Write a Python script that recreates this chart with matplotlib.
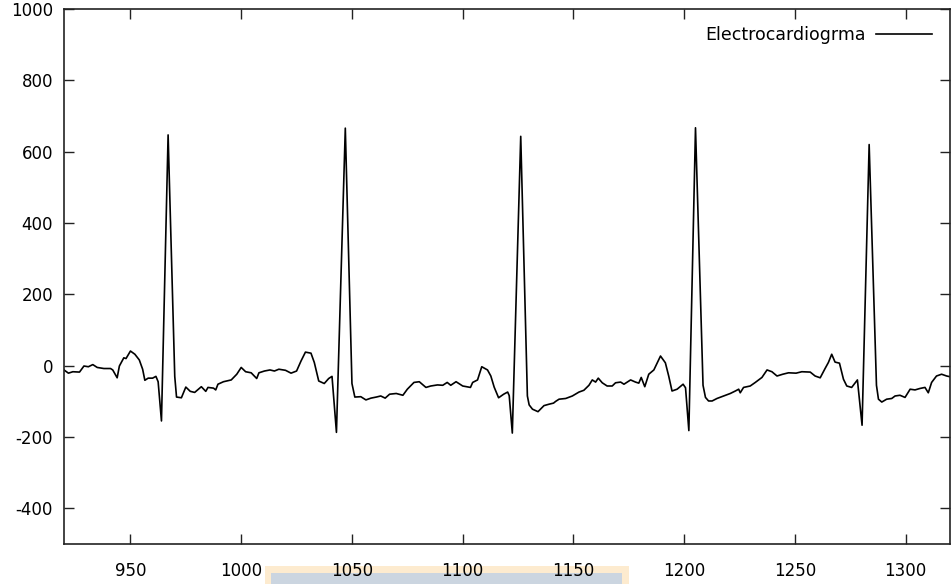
import matplotlib
matplotlib.use("Agg")
import matplotlib.pyplot as plt
from matplotlib.patches import Rectangle

muestra = [920, 922, 924, 927, 929, 931, 933, 935, 938, 941, 942, 944, 945, 947, 948,
           950, 952, 954, 955.5, 956.5, 958, 960, 961.5, 962.5, 964, 967, 970, 970.8,
           973, 975, 977, 979, 982, 984, 985, 987.5, 988.5, 989.5, 992, 995.5, 998,
           1000, 1002, 1004.5, 1007, 1008, 1010.5, 1013, 1015, 1017, 1020, 1022.5,
           1025, 1027, 1029, 1031.5, 1033, 1035, 1037.5, 1039.5, 1041, 1043, 1047,
           1050, 1051.3, 1054, 1056.3, 1058.6, 1061, 1063, 1065, 1067, 1070, 1073,
           1075, 1078, 1080.4, 1083.4, 1085.6, 1088.6, 1091, 1093, 1094.6, 1097, 1100,
           1103.5, 1104.5, 1106.7, 1108.6, 1111.2, 1112.7, 1114.2, 1116.2, 1118.5,
           1120.3, 1121, 1122.4, 1126.2, 1129.2, 1130, 1131.5, 1134, 1136.7, 1139,
           1141, 1142, 1143.5, 1146.5, 1149.5, 1152.5, 1154.7, 1157, 1158.5, 1160,
           1161.2, 1163, 1165.2, 1167.5, 1169, 1171.3, 1172.8, 1175.8, 1178, 1179.5,
           1180.6, 1182.2, 1184, 1186.3, 1189.3, 1191.5, 1193, 1194.5, 1196.8, 1199.5,
           1200.6, 1202.1, 1205.1, 1208.5, 1209.6, 1211, 1212.6, 1214.8, 1217.8,
           1220.8, 1223.1, 1224.6, 1225.3, 1226.8, 1229.8, 1232.1, 1235.1, 1237.4,
           1239.6, 1241.9, 1244.5, 1247.1, 1250.5, 1253.1, 1256.9, 1259.1, 1261.4,
           1263.6, 1265.1, 1266.6, 1268.1, 1270.1, 1271.9, 1273.4, 1275.6, 1278.2,
           1280.3, 1283.5, 1286.8, 1287.7, 1289.2, 1291.4, 1293.7, 1295.2, 1297.4,
           1299.7, 1302, 1304.2, 1306.4, 1308.7, 1310.2, 1311.7, 1313.9, 1316.2,
           1318.5, 1320]
valor = [-12, -21, -17, -18, -1, -3, 3, -5, -8, -8, -12, -34, -1, 22, 20,
         41, 32, 16, -10, -41, -35, -35, -30, -45, -155, 647, -30, -88,
         -90, -60, -72, -75, -59, -72, -61, -63, -68, -52, -45, -40, -24,
         -5, -17, -20, -36, -20, -15, -12, -15, -10, -13, -21,
         -15, 13, 38, 35, 9, -43, -50, -36, -30, -187, 666,
         -50, -88, -87, -96, -91, -88, -85, -91, -80, -78, -83,
         -66, -47, -45, -61, -57, -54, -55, -47, -55, -45, -57,
         -61, -47, -40, -3, -12, -29, -60, -90, -80,
         -74, -84, -189, 643, -85, -110, -122, -129, -112, -108,
         -105, -100, -94, -92, -85, -74, -69, -55, -40, -46,
         -35, -48, -57, -57, -48, -46, -52, -40, -46, -49,
         -33, -59, -24, -12, 27, 8, -29, -71, -66, -52,
         -62, -182, 667, -55, -89, -99, -99, -92, -85,
         -78, -71, -66, -76, -61, -57, -47, -33, -12,
         -17, -29, -24, -20, -21, -17, -18, -29, -34,
         -8, 9, 32, 10, 7, -38, -57, -61, -40,
         -167, 620, -55, -94, -102, -94, -92, -85, -83,
         -89, -66, -68, -64, -61, -76, -47, -29, -24,
         -29, -31]

xticks = [950, 1000, 1050, 1100, 1150, 1200, 1250, 1300]
yticks = [-400, -200, 0, 200, 400, 600, 800, 1000]

plt.rcParams['font.family'] = 'DejaVu Sans'
plt.rcParams['axes.unicode_minus'] = False

fig = plt.figure(figsize=(9.51, 5.84), dpi=100)
ax = fig.add_axes([64/951, 1 - 544/584, 886/951, 535/584])

ax.plot(muestra, valor, color='black', linewidth=1.2, label='Electrocardiogrma')

ax.set_xlim(920, 1320)
ax.set_ylim(-500, 1000)
ax.set_xticks(xticks)
ax.set_yticks(yticks)
ax.tick_params(direction='in', length=7, width=1, top=True, right=True,
               labelsize=12, color='#222222')
ax.tick_params(axis='x', pad=13)
ax.tick_params(axis='y', pad=8)
for s in ax.spines.values():
    s.set_color('#222222')
    s.set_linewidth(1.2)

ax.legend(loc='upper right', bbox_to_anchor=(0.997, 0.998), frameon=False,
          markerfirst=False, handlelength=3.2, handletextpad=0.6, fontsize=12.5)

# franja de la captura original bajo el eje x
fig.patches.append(Rectangle((265/951, 0), 364/951, 18/584, transform=fig.transFigure,
                             facecolor='#fdebcf', edgecolor='none', zorder=-1))
fig.patches.append(Rectangle((271/951, 0), 351/951, 11/584, transform=fig.transFigure,
                             facecolor='#cbd5e0', edgecolor='none', zorder=-1))

fig.savefig('out.png', dpi=100)
